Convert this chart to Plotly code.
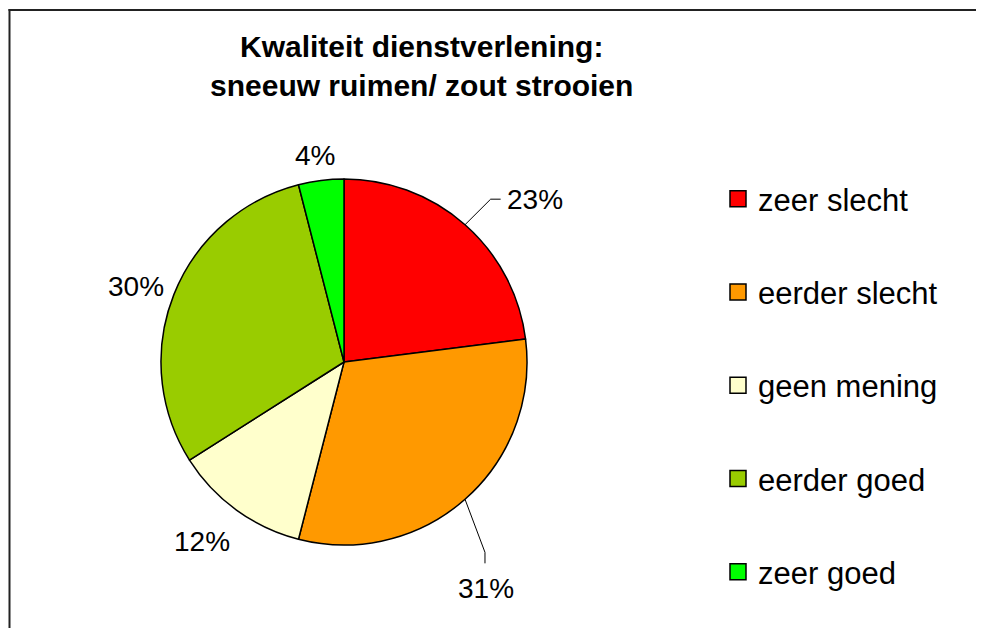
import math
import plotly.graph_objects as go

# ---- data ----
categories = ["zeer slecht", "eerder slecht", "geen mening", "eerder goed", "zeer goed"]
values = [23, 31, 12, 30, 4]
colors = ["#FF0000", "#FF9900", "#FFFFCC", "#99CC00", "#00FF00"]
title_lines = ["Kwaliteit dienstverlening:", "sneeuw ruimen/ zout strooien"]

# ---- layout constants (pixels, in window coordinates) ----
W, H = 984, 628
OFF = 8  # page body margin
CX, CY, R = 344, 362, 183
FONT = "Liberation Sans, Arial, sans-serif"
# label placement: radial distance factor and angular shift (deg) per slice
label_rf = [1.37, 1.46, 1.25, 1.21, 1.14]
label_dang = [8.1, 9.3, 2.3, -1.8, -0.8]
leader = [True, True, False, False, False]


def px(x):
    return (x - OFF) / W


def py(y):
    return 1 - (y - OFF) / H


fig = go.Figure()
fig.add_trace(go.Pie(
    labels=categories, values=values, sort=False, direction="clockwise",
    rotation=0, marker=dict(colors=colors, line=dict(color="black", width=1.5)),
    textinfo="none", hoverinfo="label+percent", showlegend=False,
    domain=dict(x=[px(CX - R), px(CX + R)], y=[py(CY + R), py(CY - R)]),
))

# legend via dummy traces so that item spacing can be controlled
for i, (c, col) in enumerate(zip(categories, colors)):
    fig.add_trace(go.Scatter(
        x=[None], y=[None], mode="markers", name=c, legendgroup=str(i),
        marker=dict(symbol="square", size=18, color=col, line=dict(color="black", width=1.5)),
    ))

total = sum(values)
cum = 0
annotations = []
shapes = []
for i, v in enumerate(values):
    mid = (cum + v / 2) / total * 360
    cum += v
    pct = f"{round(v / total * 100)}%"
    ang = math.radians(mid + label_dang[i])
    lr = R * label_rf[i]
    lx = CX + lr * math.sin(ang)
    ly = CY - lr * math.cos(ang)
    annotations.append(dict(x=px(lx), y=py(ly), xref="paper", yref="paper", text=pct,
                            showarrow=False, font=dict(family=FONT, size=28, color="black"),
                            xanchor="center", yanchor="middle"))
    if leader[i]:
        m = math.radians(mid)
        sx = CX + R * math.sin(m)
        sy = CY - R * math.cos(m)
        if abs(lx - sx) > abs(ly - sy):
            ex, ey = lx - 34, ly
            bx, by = ex - 10, ey
        else:
            ex, ey = lx - 1, ly - 25
            bx, by = ex, ey - 11
        shapes.append(dict(type="path", xref="paper", yref="paper",
                           path=f"M {px(sx)} {py(sy)} L {px(bx)} {py(by)} L {px(ex)} {py(ey)}",
                           line=dict(color="black", width=1)))

# chart border: only top and left edges are visible in the frame
border = dict(color="#222222", width=2)
shapes.append(dict(type="line", xref="paper", yref="paper", x0=px(8.5), x1=1.3,
                   y0=py(10), y1=py(10), line=border, layer="below"))
shapes.append(dict(type="line", xref="paper", yref="paper", x0=px(9.5), x1=px(9.5),
                   y0=py(9), y1=-0.3, line=border, layer="below"))

annotations.append(dict(x=px(421), y=py(66), xref="paper", yref="paper",
                        text="<b>" + "<br>".join(title_lines) + "</b>", showarrow=False,
                        font=dict(family=FONT, size=30, color="black"), align="center",
                        xanchor="center", yanchor="middle"))

fig.update_layout(
    width=W, height=H, margin=dict(l=0, r=0, t=0, b=0),
    paper_bgcolor="white", plot_bgcolor="white",
    xaxis=dict(visible=False), yaxis=dict(visible=False),
    annotations=annotations, shapes=shapes,
    legend=dict(x=px(718), y=py(172), xanchor="left", yanchor="top",
                font=dict(family=FONT, size=31, color="black"),
                tracegroupgap=50, traceorder="grouped", itemclick=False),
)

fig.write_html("out.html")
